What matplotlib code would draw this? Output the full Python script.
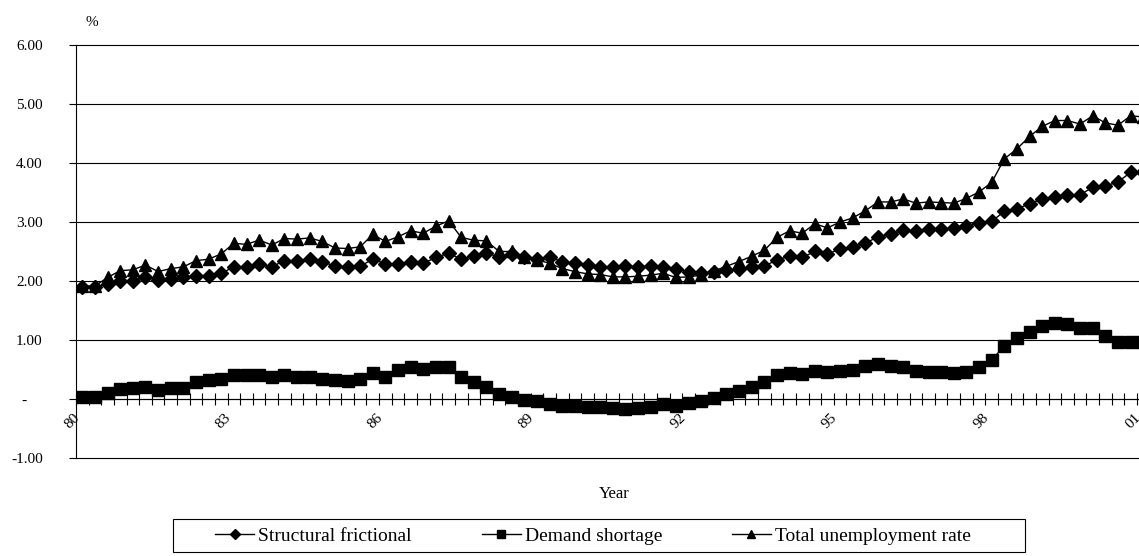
import numpy as np
import matplotlib.pyplot as plt
import matplotlib.transforms as mtransforms
from matplotlib.patches import Rectangle

plt.rcParams['font.family'] = ['Liberation Serif', 'DejaVu Serif']

# quarterly data, 1980Q1 onwards (%)
year_labels = ["80", "83", "86", "89", "92", "95", "98", "01"]

structural = [
    1.89, 1.90, 1.95, 2.00, 2.00, 2.07, 2.02, 2.03, 2.06, 2.08, 2.08, 2.13,
    2.24, 2.23, 2.28, 2.24, 2.345, 2.345, 2.37, 2.33, 2.25, 2.24, 2.25, 2.37,
    2.29, 2.29, 2.32, 2.30, 2.40, 2.47, 2.37, 2.42, 2.47, 2.41, 2.46, 2.40,
    2.38, 2.40, 2.33, 2.30, 2.27, 2.24, 2.24, 2.25, 2.24, 2.25, 2.24, 2.20,
    2.16, 2.13, 2.16, 2.18, 2.21, 2.23, 2.25, 2.36, 2.42, 2.40, 2.50, 2.46,
    2.54, 2.58, 2.64, 2.75, 2.80, 2.86, 2.85, 2.88, 2.88, 2.89, 2.94, 2.99,
    3.01, 3.18, 3.22, 3.31, 3.39, 3.43, 3.45, 3.46, 3.59, 3.61, 3.68, 3.84,
    3.85,
]
demand = [
    0.03, 0.04, 0.10, 0.17, 0.19, 0.20, 0.15, 0.18, 0.19, 0.28, 0.32, 0.34,
    0.41, 0.41, 0.41, 0.37, 0.40, 0.37, 0.37, 0.34, 0.32, 0.305, 0.34, 0.44,
    0.38, 0.49, 0.54, 0.51, 0.54, 0.54, 0.37, 0.28, 0.21, 0.08, 0.04, -0.01,
    -0.03, -0.08, -0.12, -0.12, -0.14, -0.13, -0.16, -0.17, -0.15, -0.13, -0.09, -0.12,
    -0.06, -0.03, 0.01, 0.08, 0.14, 0.21, 0.28, 0.41, 0.435, 0.42, 0.47, 0.45,
    0.47, 0.49, 0.56, 0.59, 0.56, 0.54, 0.47, 0.46, 0.45, 0.435, 0.46, 0.55,
    0.66, 0.90, 1.04, 1.14, 1.24, 1.29, 1.27, 1.21, 1.21, 1.07, 0.96, 0.96,
    0.97,
]
total = [
    1.915, 1.915, 2.06, 2.175, 2.19, 2.27, 2.16, 2.21, 2.24, 2.345, 2.37, 2.46,
    2.64, 2.62, 2.695, 2.61, 2.72, 2.71, 2.73, 2.67, 2.56, 2.55, 2.58, 2.79,
    2.67, 2.75, 2.85, 2.81, 2.93, 3.02, 2.74, 2.69, 2.68, 2.50, 2.50, 2.40,
    2.36, 2.30, 2.21, 2.16, 2.12, 2.11, 2.07, 2.07, 2.08, 2.10, 2.13, 2.06,
    2.07, 2.10, 2.17, 2.25, 2.33, 2.42, 2.52, 2.74, 2.85, 2.81, 2.97, 2.90,
    3.00, 3.07, 3.19, 3.34, 3.34, 3.39, 3.32, 3.34, 3.33, 3.32, 3.40, 3.51,
    3.67, 4.07, 4.24, 4.45, 4.62, 4.72, 4.72, 4.66, 4.80, 4.68, 4.64, 4.80,
    4.78,
]

n = len(structural)
x = np.arange(n)

W, H = 1139, 556
fig = plt.figure(figsize=(W / 100, H / 100), dpi=100)
# plot area runs past the right edge of the picture, as in the original
ax = fig.add_axes([76 / W, 1 - 458 / H, n * 12.63 / W, 413 / H])

ax.plot(x, structural, color="black", lw=1, marker="D", ms=7, label="Structural frictional")
ax.plot(x, demand, color="black", lw=1, marker="s", ms=8.5, label="Demand shortage")
ax.plot(x, total, color="black", lw=1, marker="^", ms=8.5, label="Total unemployment rate")

ax.set_xlim(-0.5, n - 0.5)
ax.set_ylim(-1, 6)

# y axis
yt = np.arange(-1, 7)
ax.set_yticks(yt)
ax.set_yticklabels(["-    " if v == 0 else f"{v:.2f}" for v in yt])
ax.tick_params(axis="y", direction="out", length=5, width=0.8, pad=19, labelsize=11)
ax.yaxis.grid(True, color="black", lw=0.8)
for gl in ax.get_ygridlines():
    gl.set_clip_on(False)
ax.set_axisbelow(True)

# x axis sits on zero with a tick at every quarter boundary
ax.spines["bottom"].set_position(("data", 0))
ax.spines["top"].set_visible(False)
ax.spines["right"].set_visible(False)
ax.spines["left"].set_linewidth(0.8)
ax.spines["bottom"].set_linewidth(0.8)
ax.set_xticks(np.arange(-0.5, n), labels=[])
ax.tick_params(axis="x", which="major", direction="inout", length=8, width=0.8)
ax.set_xticks(np.arange(0, n, 12), labels=year_labels, minor=True)
ax.tick_params(axis="x", which="minor", length=0, pad=12, labelsize=11)
shift = mtransforms.ScaledTranslation(-5 / 100, 0, fig.dpi_scale_trans)
for lab in ax.get_xticklabels(minor=True):
    lab.set_rotation(45)
    lab.set_rotation_mode("anchor")
    lab.set_ha("right")
    lab.set_va("center")
    lab.set_transform(lab.get_transform() + shift)

fig.text(92 / W, 1 - 23 / H, "%", fontsize=11, ha="center", va="center")
fig.text(614 / W, 1 - 494 / H, "Year", fontsize=12, ha="center", va="center")

# legend: entries without frame, plus the wide box drawn around them
leg = fig.legend(loc="center", bbox_to_anchor=(593 / W, 1 - 536 / H), ncol=3, fontsize=14,
                 frameon=False, columnspacing=3.6, handlelength=2.0, handletextpad=0.2,
                 markerscale=0.75)
fig.patches.append(Rectangle((173 / W, 1 - 552 / H), (1025 - 173) / W, 33 / H,
                             transform=fig.transFigure, fill=False, edgecolor="black", lw=0.8))

fig.savefig("out.png", dpi=100)
